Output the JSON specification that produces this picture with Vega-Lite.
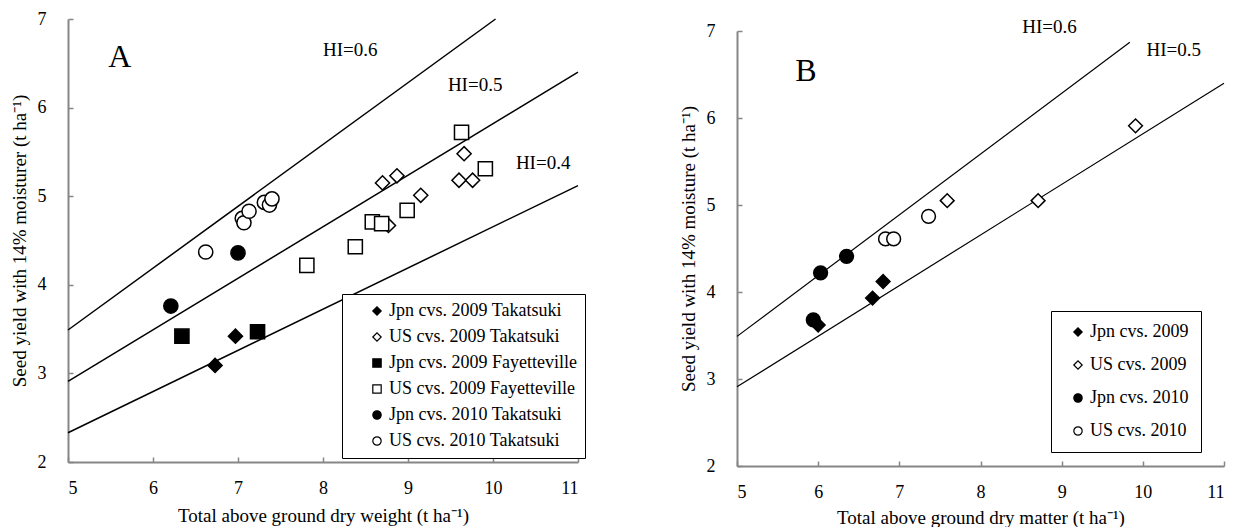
{
  "$schema": "https://vega.github.io/schema/vega-lite/v6.json",
  "background": "white",
  "padding": {"left": 10, "top": 10, "right": 0, "bottom": 0},
  "spacing": 93,
  "resolve": {"scale": {"x": "independent", "y": "independent", "shape": "independent", "fill": "independent", "stroke": "independent"}, "legend": {"shape": "independent", "fill": "independent", "stroke": "independent"}},
  "config": {
    "font": "Liberation Serif",
    "view": {"stroke": null},
    "text": {"font": "Liberation Serif"},
    "legend": {"labelFont": "Liberation Serif", "labelFontSize": 18, "labelColor": "black"},
    "axis": {
      "domainColor": "#868686", "domainWidth": 2, "tickColor": "#868686", "tickWidth": 1.5, "tickSize": -5,
      "grid": false, "labelFont": "Liberation Serif", "labelFontSize": 18, "labelColor": "black",
      "titleFont": "Liberation Serif", "titleFontSize": 19, "titleFontWeight": "normal", "titleColor": "black"
    }
  },
  "hconcat": [
    {
      "width": 510, "height": 443,
      "layer": [
        {
          "data": {"values": [
            {"hi": "0.6", "x": 5, "y": 3.49}, {"hi": "0.6", "x": 10.03, "y": 7.0},
            {"hi": "0.5", "x": 5, "y": 2.91}, {"hi": "0.5", "x": 11, "y": 6.40},
            {"hi": "0.4", "x": 5, "y": 2.33}, {"hi": "0.4", "x": 11, "y": 5.12}
          ]},
          "mark": {"type": "line", "color": "black", "strokeWidth": 1.5},
          "encoding": {
            "x": {"field": "x", "type": "quantitative", "scale": {"domain": [5, 11], "nice": false},
              "axis": {"values": [5, 6, 7, 8, 9, 10, 11], "format": "d", "title": "Total above ground dry weight (t ha⁻¹)",
                "labelFont": "Liberation Serif", "labelFontSize": 18, "titleFont": "Liberation Serif", "titleFontSize": 19, "labelPadding": 22, "titlePadding": 9}},
            "y": {"field": "y", "type": "quantitative", "scale": {"domain": [2, 7], "nice": false, "zero": false},
              "axis": {"values": [2, 3, 4, 5, 6, 7], "format": "d", "title": "Seed yield with 14% moisturer (t ha⁻¹)",
                "labelFont": "Liberation Serif", "labelFontSize": 18, "titleFont": "Liberation Serif", "titleFontSize": 19, "labelPadding": 27, "titlePadding": 8}},
            "detail": {"field": "hi"}
          }
        },
        {
          "data": {"values": [
            {"s": "Jpn cvs. 2009 Takatsuki", "x": 6.73, "y": 3.09},
            {"s": "Jpn cvs. 2009 Takatsuki", "x": 6.97, "y": 3.42},
            {"s": "US cvs. 2009 Takatsuki", "x": 8.70, "y": 5.15},
            {"s": "US cvs. 2009 Takatsuki", "x": 8.87, "y": 5.23},
            {"s": "US cvs. 2009 Takatsuki", "x": 9.15, "y": 5.01},
            {"s": "US cvs. 2009 Takatsuki", "x": 8.77, "y": 4.67},
            {"s": "US cvs. 2009 Takatsuki", "x": 9.60, "y": 5.18},
            {"s": "US cvs. 2009 Takatsuki", "x": 9.76, "y": 5.18},
            {"s": "US cvs. 2009 Takatsuki", "x": 9.66, "y": 5.48},
            {"s": "Jpn cvs. 2009 Fayetteville", "x": 6.34, "y": 3.42},
            {"s": "Jpn cvs. 2009 Fayetteville", "x": 7.23, "y": 3.47},
            {"s": "US cvs. 2009 Fayetteville", "x": 7.81, "y": 4.22},
            {"s": "US cvs. 2009 Fayetteville", "x": 8.38, "y": 4.43},
            {"s": "US cvs. 2009 Fayetteville", "x": 8.58, "y": 4.71},
            {"s": "US cvs. 2009 Fayetteville", "x": 8.69, "y": 4.69},
            {"s": "US cvs. 2009 Fayetteville", "x": 8.99, "y": 4.84},
            {"s": "US cvs. 2009 Fayetteville", "x": 9.63, "y": 5.72},
            {"s": "US cvs. 2009 Fayetteville", "x": 9.91, "y": 5.31},
            {"s": "Jpn cvs. 2010 Takatsuki", "x": 6.21, "y": 3.76},
            {"s": "Jpn cvs. 2010 Takatsuki", "x": 7.00, "y": 4.36},
            {"s": "US cvs. 2010 Takatsuki", "x": 6.62, "y": 4.37},
            {"s": "US cvs. 2010 Takatsuki", "x": 7.05, "y": 4.75},
            {"s": "US cvs. 2010 Takatsuki", "x": 7.07, "y": 4.70},
            {"s": "US cvs. 2010 Takatsuki", "x": 7.13, "y": 4.83},
            {"s": "US cvs. 2010 Takatsuki", "x": 7.31, "y": 4.93},
            {"s": "US cvs. 2010 Takatsuki", "x": 7.37, "y": 4.90},
            {"s": "US cvs. 2010 Takatsuki", "x": 7.40, "y": 4.97}
          ]},
          "mark": {"type": "point", "filled": true, "strokeWidth": 1.5, "size": 200, "opacity": 1},
          "encoding": {
            "x": {"field": "x", "type": "quantitative"},
            "y": {"field": "y", "type": "quantitative"},
            "shape": {"field": "s", "type": "nominal",
              "scale": {"domain": ["Jpn cvs. 2009 Takatsuki", "US cvs. 2009 Takatsuki", "Jpn cvs. 2009 Fayetteville", "US cvs. 2009 Fayetteville", "Jpn cvs. 2010 Takatsuki", "US cvs. 2010 Takatsuki"], "range": ["diamond", "diamond", "square", "square", "circle", "circle"]},
              "legend": {"title": null, "orient": "none", "legendX": 274, "legendY": 275, "strokeColor": "black", "fillColor": "white", "padding": 8, "labelFont": "Liberation Serif", "labelFontSize": 18, "labelColor": "black", "symbolSize": 70, "symbolStrokeWidth": 1.2, "rowPadding": 8, "symbolOffset": 18, "labelOffset": 3, "labelLimit": 300}},
            "fill": {"field": "s", "type": "nominal",
              "scale": {"domain": ["Jpn cvs. 2009 Takatsuki", "US cvs. 2009 Takatsuki", "Jpn cvs. 2009 Fayetteville", "US cvs. 2009 Fayetteville", "Jpn cvs. 2010 Takatsuki", "US cvs. 2010 Takatsuki"], "range": ["black", "white", "black", "white", "black", "white"]},
              "legend": {"title": null, "orient": "none", "legendX": 274, "legendY": 275, "strokeColor": "black", "fillColor": "white", "padding": 8, "labelFont": "Liberation Serif", "labelFontSize": 18, "labelColor": "black", "symbolSize": 70, "symbolStrokeWidth": 1.2, "rowPadding": 8, "symbolOffset": 18, "labelOffset": 3, "labelLimit": 300}},
            "stroke": {"field": "s", "type": "nominal",
              "scale": {"domain": ["Jpn cvs. 2009 Takatsuki", "US cvs. 2009 Takatsuki", "Jpn cvs. 2009 Fayetteville", "US cvs. 2009 Fayetteville", "Jpn cvs. 2010 Takatsuki", "US cvs. 2010 Takatsuki"], "range": ["black", "black", "black", "black", "black", "black"]},
              "legend": {"title": null, "orient": "none", "legendX": 274, "legendY": 275, "strokeColor": "black", "fillColor": "white", "padding": 8, "labelFont": "Liberation Serif", "labelFontSize": 18, "labelColor": "black", "symbolSize": 70, "symbolStrokeWidth": 1.2, "rowPadding": 8, "symbolOffset": 18, "labelOffset": 3, "labelLimit": 300}}
          }
        },
        {
          "data": {"values": [
            {"t": "HI=0.6", "x": 8.32, "y": 6.65},
            {"t": "HI=0.5", "x": 9.79, "y": 6.25},
            {"t": "HI=0.4", "x": 10.59, "y": 5.37}
          ]},
          "mark": {"type": "text", "font": "Liberation Serif", "fontSize": 19, "color": "black"},
          "encoding": {
            "x": {"field": "x", "type": "quantitative"},
            "y": {"field": "y", "type": "quantitative"},
            "text": {"field": "t"}
          }
        },
        {
          "data": {"values": [{"t": "A", "x": 5.61, "y": 6.57}]},
          "mark": {"type": "text", "font": "Liberation Serif", "fontSize": 32, "color": "black"},
          "encoding": {
            "x": {"field": "x", "type": "quantitative"},
            "y": {"field": "y", "type": "quantitative"},
            "text": {"field": "t"}
          }
        }
      ]
    },
    {
      "spacing": -3,
      "resolve": {"scale": {"x": "independent", "y": "independent", "shape": "independent", "fill": "independent", "stroke": "independent"}},
      "vconcat": [
        {
          "width": 10, "height": 1,
          "data": {"values": []},
          "mark": "rule",
          "encoding": {}
        },
        {
          "width": 487, "height": 435,
          "layer": [
            {
              "data": {"values": [
                {"hi": "0.6", "x": 5, "y": 3.49}, {"hi": "0.6", "x": 9.84, "y": 6.87},
                {"hi": "0.5", "x": 5, "y": 2.91}, {"hi": "0.5", "x": 11, "y": 6.40}
              ]},
              "mark": {"type": "line", "color": "black", "strokeWidth": 1.2},
              "encoding": {
                "x": {"field": "x", "type": "quantitative", "scale": {"domain": [5, 11], "nice": false},
                  "axis": {"values": [5, 6, 7, 8, 9, 10, 11], "format": "d", "title": "Total above ground dry matter (t ha⁻¹)",
                    "labelFont": "Liberation Serif", "labelFontSize": 18, "titleFont": "Liberation Serif", "titleFontSize": 19, "labelPadding": 22, "titlePadding": 7}},
                "y": {"field": "y", "type": "quantitative", "scale": {"domain": [2, 7], "nice": false, "zero": false},
                  "axis": {"values": [2, 3, 4, 5, 6, 7], "format": "d", "title": "Seed yield  with 14% moisture (t ha⁻¹)",
                    "labelFont": "Liberation Serif", "labelFontSize": 18, "titleFont": "Liberation Serif", "titleFontSize": 19, "labelPadding": 27, "titlePadding": 8}},
                "detail": {"field": "hi"}
              }
            },
            {
              "data": {"values": [
                {"g": "Jpn cvs. 2009", "x": 6.00, "y": 3.62},
                {"g": "Jpn cvs. 2009", "x": 6.67, "y": 3.93},
                {"g": "Jpn cvs. 2009", "x": 6.80, "y": 4.12},
                {"g": "US cvs. 2009", "x": 7.59, "y": 5.05},
                {"g": "US cvs. 2009", "x": 8.71, "y": 5.05},
                {"g": "US cvs. 2009", "x": 9.91, "y": 5.91},
                {"g": "Jpn cvs. 2010", "x": 5.94, "y": 3.68},
                {"g": "Jpn cvs. 2010", "x": 6.03, "y": 4.22},
                {"g": "Jpn cvs. 2010", "x": 6.35, "y": 4.41},
                {"g": "US cvs. 2010", "x": 6.83, "y": 4.61},
                {"g": "US cvs. 2010", "x": 6.93, "y": 4.61},
                {"g": "US cvs. 2010", "x": 7.36, "y": 4.87}
              ]},
              "mark": {"type": "point", "filled": true, "strokeWidth": 1.5, "size": 190, "opacity": 1},
              "encoding": {
                "x": {"field": "x", "type": "quantitative"},
                "y": {"field": "y", "type": "quantitative"},
                "shape": {"field": "g", "type": "nominal",
                  "scale": {"domain": ["Jpn cvs. 2009", "US cvs. 2009", "Jpn cvs. 2010", "US cvs. 2010"], "range": ["diamond", "diamond", "circle", "circle"]},
                  "legend": {"title": null, "orient": "none", "legendX": 314, "legendY": 280, "strokeColor": "black", "fillColor": "white", "padding": 12, "labelFont": "Liberation Serif", "labelFontSize": 18, "labelColor": "black", "symbolSize": 70, "symbolStrokeWidth": 1.2, "rowPadding": 15, "symbolOffset": 6, "labelOffset": 3}},
                "fill": {"field": "g", "type": "nominal",
                  "scale": {"domain": ["Jpn cvs. 2009", "US cvs. 2009", "Jpn cvs. 2010", "US cvs. 2010"], "range": ["black", "white", "black", "white"]},
                  "legend": {"title": null, "orient": "none", "legendX": 314, "legendY": 280, "strokeColor": "black", "fillColor": "white", "padding": 12, "labelFont": "Liberation Serif", "labelFontSize": 18, "labelColor": "black", "symbolSize": 70, "symbolStrokeWidth": 1.2, "rowPadding": 15, "symbolOffset": 6, "labelOffset": 3}},
                "stroke": {"field": "g", "type": "nominal",
                  "scale": {"domain": ["Jpn cvs. 2009", "US cvs. 2009", "Jpn cvs. 2010", "US cvs. 2010"], "range": ["black", "black", "black", "black"]},
                  "legend": {"title": null, "orient": "none", "legendX": 314, "legendY": 280, "strokeColor": "black", "fillColor": "white", "padding": 12, "labelFont": "Liberation Serif", "labelFontSize": 18, "labelColor": "black", "symbolSize": 70, "symbolStrokeWidth": 1.2, "rowPadding": 15, "symbolOffset": 6, "labelOffset": 3}}
              }
            },
            {
              "data": {"values": [
                {"t": "HI=0.6", "x": 8.85, "y": 7.05},
                {"t": "HI=0.5", "x": 10.38, "y": 6.78}
              ]},
              "mark": {"type": "text", "font": "Liberation Serif", "fontSize": 19, "color": "black"},
              "encoding": {
                "x": {"field": "x", "type": "quantitative"},
                "y": {"field": "y", "type": "quantitative"},
                "text": {"field": "t"}
              }
            },
            {
              "data": {"values": [{"t": "B", "x": 5.85, "y": 6.54}]},
              "mark": {"type": "text", "font": "Liberation Serif", "fontSize": 32, "color": "black"},
              "encoding": {
                "x": {"field": "x", "type": "quantitative"},
                "y": {"field": "y", "type": "quantitative"},
                "text": {"field": "t"}
              }
            }
          ]
        }
      ]
    }
  ]
}
